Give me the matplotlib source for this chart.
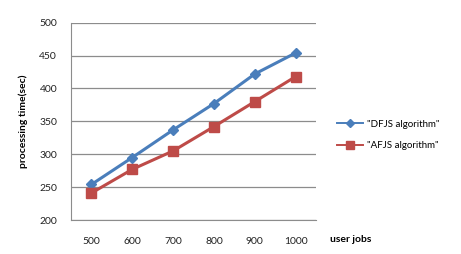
import matplotlib.pyplot as plt

plt.rcParams['font.family'] = ['Lato', 'DejaVu Sans']

jobs = ["500", "600", "700", "800", "900", "1000"]
dfjs = [254, 295, 337, 377, 422, 454]
afjs = [241, 277, 305, 342, 380, 418]

fig = plt.figure(figsize=(4.61, 2.54), dpi=100)
ax = fig.add_axes([71/461, 1 - 220/254, 245/461, 197.3/254])

x = range(len(jobs))
ax.plot(x, dfjs, color="#4A7EBB", lw=2.2, marker="D", ms=5,
        label='"DFJS algorithm"', zorder=3)
ax.plot(x, afjs, color="#BE4B48", lw=2.2, marker="s", ms=7,
        label='"AFJS algorithm"', zorder=3)

ax.set_xlim(-0.5, len(jobs) - 0.5)
ax.set_ylim(200, 500)
ax.set_yticks(range(200, 501, 50))
ax.set_xticks(list(x))
ax.set_xticklabels(jobs)
ax.grid(axis="y", color="#8c8c8c", lw=0.9)
ax.set_axisbelow(True)
for s in ["top", "right"]:
    ax.spines[s].set_visible(False)
for s in ["left", "bottom"]:
    ax.spines[s].set_color("#8c8c8c")
ax.tick_params(length=0, labelsize=7.5, colors="#222222")
ax.tick_params(axis="x", pad=12)
ax.tick_params(axis="y", pad=10)

ax.set_ylabel("processing time(sec)", fontsize=7.5, fontweight="bold", labelpad=8)
fig.text(330/461, 1 - 239/254, "user jobs", fontsize=7.5, fontweight="bold",
         va="center", ha="left")

leg = ax.legend(loc="center left", bbox_to_anchor=(1.086, 0.43), frameon=False,
                fontsize=7, handlelength=2.7, labelspacing=1.3, handletextpad=0.35,
                borderpad=0, borderaxespad=0)
for ln, ms in zip(leg.get_lines(), [4, 6]):
    ln.set_linewidth(1.4)
    ln.set_markersize(ms)

fig.savefig("out.png", dpi=100)
